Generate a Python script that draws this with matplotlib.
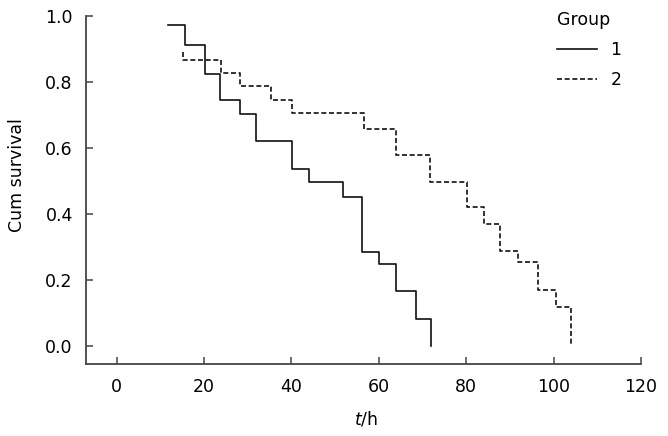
import matplotlib
matplotlib.use("Agg")
import matplotlib.pyplot as plt

plt.rcParams["font.family"] = "DejaVu Sans"
plt.rcParams["font.size"] = 12.5

# Kaplan-Meier steps: time (h) and survival after each step
t1 = [11.8, 15.6, 20.2, 23.6, 28.2, 32.0, 40.1, 44.0, 51.8, 56.1, 60.1, 63.9, 68.5, 72.0]
s1 = [0.974, 0.914, 0.826, 0.745, 0.704, 0.622, 0.536, 0.496, 0.452, 0.286, 0.248, 0.167, 0.081, 0.0]

t2 = [15.3, 15.3, 23.9, 28.2, 35.3, 40.2, 56.6, 63.9, 71.8, 80.1, 84.0, 87.8, 91.8, 96.4, 100.5, 104.0]
s2 = [0.892, 0.866, 0.828, 0.788, 0.746, 0.706, 0.657, 0.580, 0.497, 0.421, 0.371, 0.287, 0.254, 0.170, 0.119, 0.0]

groups = ["1", "2"]
xticks = [0, 20, 40, 60, 80, 100, 120]
yticks = [0.0, 0.2, 0.4, 0.6, 0.8, 1.0]

spine_col = "#444444"

fig = plt.figure(figsize=(6.68, 4.36), dpi=100)
ax = fig.add_axes([0.1287, 0.164, 0.8309, 0.799])

ax.step(t1, s1, where="post", color="#111111", lw=1.2, label=groups[0])
ax.step(t2, s2, where="post", color="#111111", lw=1.2, linestyle=(0, (3, 1.6)), label=groups[1])

ax.set_xlim(-7, 120)
ax.set_ylim(-0.056, 1.0)
ax.set_xticks(xticks)
ax.set_yticks(yticks)
ax.set_yticklabels(["%.1f" % v for v in yticks])

for side in ["top", "right"]:
    ax.spines[side].set_visible(False)
for side in ["left", "bottom"]:
    ax.spines[side].set_color(spine_col)
    ax.spines[side].set_linewidth(1.3)
ax.tick_params(direction="in", length=5, width=1.1, color=spine_col, pad=9.5)

ax.set_ylabel("Cum survival")
ax.yaxis.set_label_coords(-0.108, 0.545)
ax.set_xlabel(r"$t$/h")
ax.xaxis.set_label_coords(0.505, -0.128)

leg = ax.legend(title="Group", loc="upper left", bbox_to_anchor=(548 / 668, 1 - 2 / 436),
                bbox_transform=fig.transFigure, frameon=False, borderpad=0,
                handlelength=2.3, handletextpad=0.8, labelspacing=0.7,
                alignment="left", fontsize=12.5, title_fontsize=12.5)

fig.savefig("out.png", dpi=100)
